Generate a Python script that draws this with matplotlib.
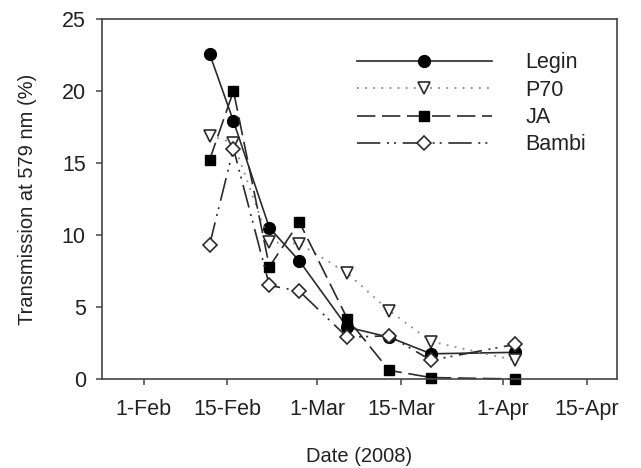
import matplotlib
matplotlib.use("Agg")
import matplotlib.pyplot as plt
from datetime import datetime

plt.rcParams['font.family'] = ['Liberation Sans', 'DejaVu Sans']

# sampling dates (2008)
dates = [datetime(2008, 2, 12), datetime(2008, 2, 16), datetime(2008, 2, 22),
         datetime(2008, 2, 27), datetime(2008, 3, 6), datetime(2008, 3, 13),
         datetime(2008, 3, 20), datetime(2008, 4, 3)]

legin = [22.6, 17.9, 10.5, 8.2, 3.6, 2.9, 1.75, 1.85]
p70 = [16.9, 16.4, 9.5, 9.4, 7.35, 4.75, 2.6, 1.3]
ja = [15.2, 20.0, 7.8, 10.9, 4.2, 0.6, 0.1, 0.0]
bambi = [9.3, 16.0, 6.5, 6.1, 2.9, 3.0, 1.3, 2.4]

tick_dates = [datetime(2008, 2, 1), datetime(2008, 2, 15), datetime(2008, 3, 1),
              datetime(2008, 3, 15), datetime(2008, 4, 1), datetime(2008, 4, 15)]
tick_labels = ["1-Feb", "15-Feb", "1-Mar", "15-Mar", "1-Apr", "15-Apr"]

fig = plt.figure(figsize=(6.41, 4.68), dpi=100)
ax = fig.add_axes([0.1587, 0.1902, 0.8034, 0.7692])

lc = "#2b2b2b"
ax.plot(dates, legin, color=lc, lw=1.2, ls="-", marker="o", ms=8.5,
        mfc="black", mec="black", label="Legin", clip_on=False)
ax.plot(dates, p70, color="#8a8a8a", lw=1.3, ls=(0, (1, 3.5)), marker="v", ms=9,
        mfc="white", mec=lc, mew=1.2, label="P70", clip_on=False)
ax.plot(dates, ja, color=lc, lw=1.2, ls=(0, (11, 4)), marker="s", ms=7.5,
        mfc="black", mec="black", label="JA", clip_on=False)
ax.plot(dates, bambi, color=lc, lw=1.2, ls=(0, (14, 4, 1.2, 3, 1.2, 4)), marker="D", ms=7.5,
        mfc="white", mec=lc, mew=1.2, label="Bambi", clip_on=False)

ax.set_xlim(datetime(2008, 1, 25), datetime(2008, 4, 20))
ax.set_ylim(0, 25)
ax.set_xticks(tick_dates)
ax.set_xticklabels(tick_labels)
ax.set_yticks([0, 5, 10, 15, 20, 25])

for s in ax.spines.values():
    s.set_color("#444444")
    s.set_linewidth(1.2)
ax.tick_params(direction="out", length=4.5, width=1.1, color="#444444",
               labelsize=15.5, labelcolor="#222222")
ax.tick_params(axis="x", pad=10)
ax.tick_params(axis="y", pad=7)

ax.set_ylabel("Transmission at 579 nm (%)", fontsize=14.5, color="#222222", labelpad=18)
ax.set_xlabel("Date (2008)", fontsize=14.5, color="#222222", labelpad=19)

ax.legend(loc="upper left", bbox_to_anchor=(0.495, 0.908), frameon=False,
          fontsize=15.5, handlelength=6.3, handletextpad=1.55, labelspacing=0.3,
          borderpad=0, borderaxespad=0, labelcolor="#222222")

fig.savefig("out.png", dpi=100)
